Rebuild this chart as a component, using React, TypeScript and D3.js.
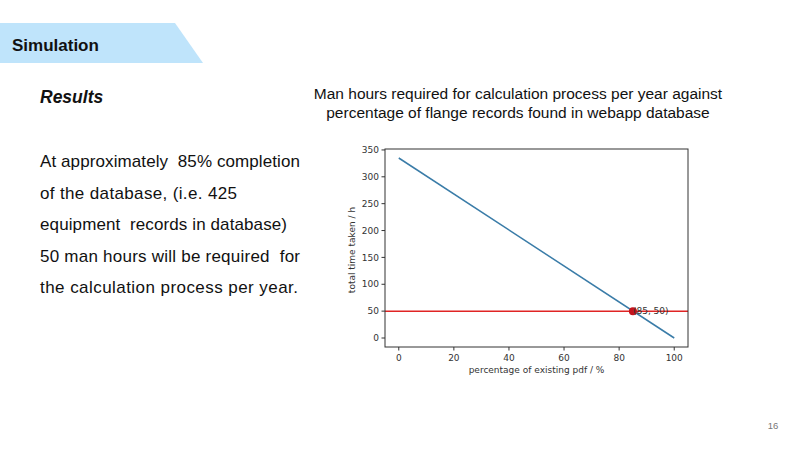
import React from "react";
import * as d3 from "d3";

const xValues = [0, 100];
const yValues = [335, 0];
const thresholdY = 50;
const markerPoint = { x: 85, y: 50 };
const xTicks = [0, 20, 40, 60, 80, 100];
const yTicks = [0, 50, 100, 150, 200, 250, 300, 350];
const titleLines = [
  "Man hours required for calculation process per year against",
  "percentage of flange records found in webapp database",
];
const bodyLines = [
  "At approximately  85% completion",
  "of the database, (i.e. 425",
  "equipment  records in database)",
  "50 man hours will be required  for",
  "the calculation process per year.",
];
const bodyWidths = [260, 197, 247, 260, 258];

const W = 800;
const H = 450;
const plot = { left: 385, right: 688, top: 149, bottom: 347 };

export default function App() {
  React.useEffect(() => {
    document.body.style.margin = "0";
  }, []);
  const x = d3.scaleLinear().domain([-5, 105]).range([plot.left, plot.right]);
  const y = d3.scaleLinear().domain([-16.75, 351.75]).range([plot.bottom, plot.top]);
  const data = xValues.map((v, i) => ({ x: v, y: yValues[i] }));
  const line = d3
    .line<{ x: number; y: number }>()
    .x((d) => x(d.x))
    .y((d) => y(d.y));
  const mpl = "DejaVu Sans, sans-serif";
  const arial = "Liberation Sans, Arial, sans-serif";
  return (
    <svg width={W} height={H} style={{ display: "block" }}>
      <rect width={W} height={H} fill="#ffffff" />
      <polygon points="0,23 175,23 203,63 0,63" fill="#bfe4fb" />
      <text x={12} y={51} fontFamily={arial} fontWeight="bold" fontSize={17} fill="#111">
        Simulation
      </text>
      <text x={40} y={103} fontFamily={arial} fontWeight="bold" fontStyle="italic" fontSize={17.5} fill="#111">
        Results
      </text>
      {bodyLines.map((t, i) => (
        <text
          key={i}
          x={40}
          y={167 + i * 31.5}
          fontFamily={arial}
          fontSize={17}
          fill="#111"
          textLength={bodyWidths[i]}
          lengthAdjust="spacing"
          style={{ whiteSpace: "pre" }}
        >
          {t}
        </text>
      ))}
      {titleLines.map((t, i) => (
        <text key={i} x={518} y={99 + i * 19} textAnchor="middle" fontFamily={arial} fontSize={15.5} fill="#111">
          {t}
        </text>
      ))}
      <text x={773} y={429} textAnchor="middle" fontFamily={arial} fontSize={9.5} fill="#777">
        16
      </text>

      {/* chart */}
      <line x1={plot.left} x2={plot.right} y1={y(thresholdY)} y2={y(thresholdY)} stroke="#e02424" strokeWidth={1.5} />
      <path d={line(data) || ""} fill="none" stroke="#3a7ca8" strokeWidth={1.5} />
      <circle cx={x(markerPoint.x)} cy={y(markerPoint.y)} r={4} fill="#c4141c" />
      <text x={x(markerPoint.x)} y={y(markerPoint.y) + 2.5} fontFamily={mpl} fontSize={9} fill="#333">
        ({markerPoint.x}, {markerPoint.y})
      </text>
      <rect
        x={plot.left}
        y={plot.top}
        width={plot.right - plot.left}
        height={plot.bottom - plot.top}
        fill="none"
        stroke="#333"
        strokeWidth={1}
      />
      {xTicks.map((t) => (
        <g key={t}>
          <line x1={x(t)} x2={x(t)} y1={plot.bottom} y2={plot.bottom + 3.5} stroke="#333" />
          <text x={x(t)} y={plot.bottom + 14} textAnchor="middle" fontFamily={mpl} fontSize={9} fill="#333">
            {t}
          </text>
        </g>
      ))}
      {yTicks.map((t) => (
        <g key={t}>
          <line x1={plot.left - 3.5} x2={plot.left} y1={y(t)} y2={y(t)} stroke="#333" />
          <text x={plot.left - 6} y={y(t) + 3.2} textAnchor="end" fontFamily={mpl} fontSize={9} fill="#333">
            {t}
          </text>
        </g>
      ))}
      <text x={(plot.left + plot.right) / 2} y={373} textAnchor="middle" fontFamily={mpl} fontSize={9} fill="#333">
        percentage of existing pdf / %
      </text>
      <text
        transform={`translate(355, ${(plot.top + plot.bottom) / 2 + 2}) rotate(-90)`}
        textAnchor="middle"
        fontFamily={mpl}
        fontSize={9}
        fill="#333"
      >
        total time taken / h
      </text>
    </svg>
  );
}
